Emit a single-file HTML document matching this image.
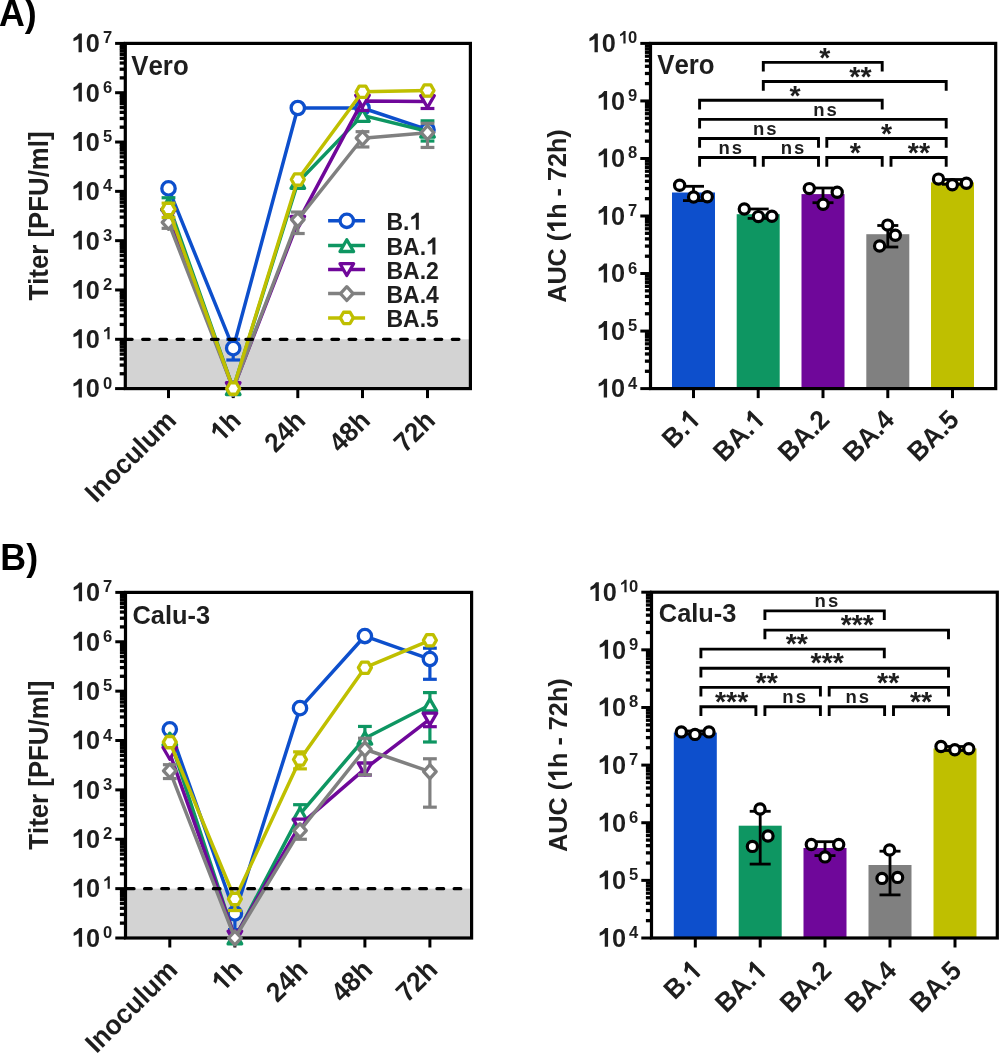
<!DOCTYPE html>
<html><head><meta charset="utf-8"><style>
html,body{margin:0;padding:0;background:#fff;width:1000px;height:1053px;overflow:hidden}
svg{display:block;will-change:transform}
text{font-kerning:none;font-feature-settings:"kern" 0}
</style></head><body>
<svg width="1000" height="1053" viewBox="0 0 1000 1053">
<rect x="0" y="0" width="1000" height="1053" fill="#fff"/>
<rect x="125.3" y="339.29" width="345.1" height="49.31" fill="#d3d3d3"/>
<rect x="125.3" y="43.4" width="345.1" height="345.2" fill="none" stroke="#000" stroke-width="3.2"/>
<line x1="115.1" y1="388.6" x2="125.3" y2="388.6" stroke="#000" stroke-width="3.0"/><line x1="119.7" y1="373.75" x2="125.3" y2="373.75" stroke="#000" stroke-width="3.3"/><line x1="119.7" y1="365.07" x2="125.3" y2="365.07" stroke="#000" stroke-width="3.3"/><line x1="119.7" y1="358.91" x2="125.3" y2="358.91" stroke="#000" stroke-width="3.3"/><line x1="119.7" y1="354.13" x2="125.3" y2="354.13" stroke="#000" stroke-width="3.3"/><line x1="119.7" y1="350.23" x2="125.3" y2="350.23" stroke="#000" stroke-width="3.3"/><line x1="119.7" y1="346.92" x2="125.3" y2="346.92" stroke="#000" stroke-width="3.3"/><line x1="119.7" y1="344.06" x2="125.3" y2="344.06" stroke="#000" stroke-width="3.3"/><line x1="119.7" y1="341.54" x2="125.3" y2="341.54" stroke="#000" stroke-width="3.3"/><line x1="115.1" y1="339.29" x2="125.3" y2="339.29" stroke="#000" stroke-width="3.0"/><line x1="119.7" y1="324.44" x2="125.3" y2="324.44" stroke="#000" stroke-width="3.3"/><line x1="119.7" y1="315.76" x2="125.3" y2="315.76" stroke="#000" stroke-width="3.3"/><line x1="119.7" y1="309.6" x2="125.3" y2="309.6" stroke="#000" stroke-width="3.3"/><line x1="119.7" y1="304.82" x2="125.3" y2="304.82" stroke="#000" stroke-width="3.3"/><line x1="119.7" y1="300.91" x2="125.3" y2="300.91" stroke="#000" stroke-width="3.3"/><line x1="119.7" y1="297.61" x2="125.3" y2="297.61" stroke="#000" stroke-width="3.3"/><line x1="119.7" y1="294.75" x2="125.3" y2="294.75" stroke="#000" stroke-width="3.3"/><line x1="119.7" y1="292.23" x2="125.3" y2="292.23" stroke="#000" stroke-width="3.3"/><line x1="115.1" y1="289.97" x2="125.3" y2="289.97" stroke="#000" stroke-width="3.0"/><line x1="119.7" y1="275.13" x2="125.3" y2="275.13" stroke="#000" stroke-width="3.3"/><line x1="119.7" y1="266.44" x2="125.3" y2="266.44" stroke="#000" stroke-width="3.3"/><line x1="119.7" y1="260.28" x2="125.3" y2="260.28" stroke="#000" stroke-width="3.3"/><line x1="119.7" y1="255.5" x2="125.3" y2="255.5" stroke="#000" stroke-width="3.3"/><line x1="119.7" y1="251.6" x2="125.3" y2="251.6" stroke="#000" stroke-width="3.3"/><line x1="119.7" y1="248.3" x2="125.3" y2="248.3" stroke="#000" stroke-width="3.3"/><line x1="119.7" y1="245.44" x2="125.3" y2="245.44" stroke="#000" stroke-width="3.3"/><line x1="119.7" y1="242.91" x2="125.3" y2="242.91" stroke="#000" stroke-width="3.3"/><line x1="115.1" y1="240.66" x2="125.3" y2="240.66" stroke="#000" stroke-width="3.0"/><line x1="119.7" y1="225.81" x2="125.3" y2="225.81" stroke="#000" stroke-width="3.3"/><line x1="119.7" y1="217.13" x2="125.3" y2="217.13" stroke="#000" stroke-width="3.3"/><line x1="119.7" y1="210.97" x2="125.3" y2="210.97" stroke="#000" stroke-width="3.3"/><line x1="119.7" y1="206.19" x2="125.3" y2="206.19" stroke="#000" stroke-width="3.3"/><line x1="119.7" y1="202.28" x2="125.3" y2="202.28" stroke="#000" stroke-width="3.3"/><line x1="119.7" y1="198.98" x2="125.3" y2="198.98" stroke="#000" stroke-width="3.3"/><line x1="119.7" y1="196.12" x2="125.3" y2="196.12" stroke="#000" stroke-width="3.3"/><line x1="119.7" y1="193.6" x2="125.3" y2="193.6" stroke="#000" stroke-width="3.3"/><line x1="115.1" y1="191.34" x2="125.3" y2="191.34" stroke="#000" stroke-width="3.0"/><line x1="119.7" y1="176.5" x2="125.3" y2="176.5" stroke="#000" stroke-width="3.3"/><line x1="119.7" y1="167.81" x2="125.3" y2="167.81" stroke="#000" stroke-width="3.3"/><line x1="119.7" y1="161.65" x2="125.3" y2="161.65" stroke="#000" stroke-width="3.3"/><line x1="119.7" y1="156.87" x2="125.3" y2="156.87" stroke="#000" stroke-width="3.3"/><line x1="119.7" y1="152.97" x2="125.3" y2="152.97" stroke="#000" stroke-width="3.3"/><line x1="119.7" y1="149.67" x2="125.3" y2="149.67" stroke="#000" stroke-width="3.3"/><line x1="119.7" y1="146.81" x2="125.3" y2="146.81" stroke="#000" stroke-width="3.3"/><line x1="119.7" y1="144.29" x2="125.3" y2="144.29" stroke="#000" stroke-width="3.3"/><line x1="115.1" y1="142.03" x2="125.3" y2="142.03" stroke="#000" stroke-width="3.0"/><line x1="119.7" y1="127.18" x2="125.3" y2="127.18" stroke="#000" stroke-width="3.3"/><line x1="119.7" y1="118.5" x2="125.3" y2="118.5" stroke="#000" stroke-width="3.3"/><line x1="119.7" y1="112.34" x2="125.3" y2="112.34" stroke="#000" stroke-width="3.3"/><line x1="119.7" y1="107.56" x2="125.3" y2="107.56" stroke="#000" stroke-width="3.3"/><line x1="119.7" y1="103.65" x2="125.3" y2="103.65" stroke="#000" stroke-width="3.3"/><line x1="119.7" y1="100.35" x2="125.3" y2="100.35" stroke="#000" stroke-width="3.3"/><line x1="119.7" y1="97.49" x2="125.3" y2="97.49" stroke="#000" stroke-width="3.3"/><line x1="119.7" y1="94.97" x2="125.3" y2="94.97" stroke="#000" stroke-width="3.3"/><line x1="115.1" y1="92.71" x2="125.3" y2="92.71" stroke="#000" stroke-width="3.0"/><line x1="119.7" y1="77.87" x2="125.3" y2="77.87" stroke="#000" stroke-width="3.3"/><line x1="119.7" y1="69.19" x2="125.3" y2="69.19" stroke="#000" stroke-width="3.3"/><line x1="119.7" y1="63.02" x2="125.3" y2="63.02" stroke="#000" stroke-width="3.3"/><line x1="119.7" y1="58.25" x2="125.3" y2="58.25" stroke="#000" stroke-width="3.3"/><line x1="119.7" y1="54.34" x2="125.3" y2="54.34" stroke="#000" stroke-width="3.3"/><line x1="119.7" y1="51.04" x2="125.3" y2="51.04" stroke="#000" stroke-width="3.3"/><line x1="119.7" y1="48.18" x2="125.3" y2="48.18" stroke="#000" stroke-width="3.3"/><line x1="119.7" y1="45.66" x2="125.3" y2="45.66" stroke="#000" stroke-width="3.3"/><line x1="115.1" y1="43.4" x2="125.3" y2="43.4" stroke="#000" stroke-width="3.0"/>
<line x1="168.5" y1="388.6" x2="168.5" y2="398.1" stroke="#000" stroke-width="3.0"/>
<line x1="233.2" y1="388.6" x2="233.2" y2="398.1" stroke="#000" stroke-width="3.0"/>
<line x1="297.8" y1="388.6" x2="297.8" y2="398.1" stroke="#000" stroke-width="3.0"/>
<line x1="362.5" y1="388.6" x2="362.5" y2="398.1" stroke="#000" stroke-width="3.0"/>
<line x1="427.5" y1="388.6" x2="427.5" y2="398.1" stroke="#000" stroke-width="3.0"/>
<polyline points="168.5,188.38 233.2,348.16 297.8,108 362.5,108 427.5,129.7" fill="none" stroke="#0d4fcc" stroke-width="3.5" stroke-linejoin="round"/>
<line x1="233.2" y1="348.16" x2="233.2" y2="339.29" stroke="#0d4fcc" stroke-width="3.2"/><line x1="226.3" y1="339.29" x2="240.1" y2="339.29" stroke="#0d4fcc" stroke-width="3.2"/><line x1="233.2" y1="348.16" x2="233.2" y2="360" stroke="#0d4fcc" stroke-width="3.2"/><line x1="226.3" y1="360" x2="240.1" y2="360" stroke="#0d4fcc" stroke-width="3.2"/>
<circle cx="168.5" cy="188.38" r="6.7" fill="#fff" stroke="#0d4fcc" stroke-width="3.3"/><circle cx="233.2" cy="348.16" r="6.7" fill="#fff" stroke="#0d4fcc" stroke-width="3.3"/><circle cx="297.8" cy="108" r="6.7" fill="#fff" stroke="#0d4fcc" stroke-width="3.3"/><circle cx="362.5" cy="108" r="6.7" fill="#fff" stroke="#0d4fcc" stroke-width="3.3"/><circle cx="427.5" cy="129.7" r="6.7" fill="#fff" stroke="#0d4fcc" stroke-width="3.3"/>
<polyline points="168.5,204.16 233.2,388.6 297.8,182.47 362.5,115.4 427.5,131.18" fill="none" stroke="#0e9662" stroke-width="3.5" stroke-linejoin="round"/>
<line x1="168.5" y1="204.16" x2="168.5" y2="197.75" stroke="#0e9662" stroke-width="3.2"/><line x1="161.6" y1="197.75" x2="175.4" y2="197.75" stroke="#0e9662" stroke-width="3.2"/>
<line x1="427.5" y1="131.18" x2="427.5" y2="120.82" stroke="#0e9662" stroke-width="3.2"/><line x1="420.6" y1="120.82" x2="434.4" y2="120.82" stroke="#0e9662" stroke-width="3.2"/><line x1="427.5" y1="131.18" x2="427.5" y2="141.04" stroke="#0e9662" stroke-width="3.2"/><line x1="420.6" y1="141.04" x2="434.4" y2="141.04" stroke="#0e9662" stroke-width="3.2"/>
<polygon points="168.5,198.26 175.3,210.06 161.7,210.06" fill="#fff" stroke="#0e9662" stroke-width="3.3" stroke-linejoin="round"/><polygon points="233.2,382.7 240,394.5 226.4,394.5" fill="#fff" stroke="#0e9662" stroke-width="3.3" stroke-linejoin="round"/><polygon points="297.8,176.57 304.6,188.37 291,188.37" fill="#fff" stroke="#0e9662" stroke-width="3.3" stroke-linejoin="round"/><polygon points="362.5,109.5 369.3,121.3 355.7,121.3" fill="#fff" stroke="#0e9662" stroke-width="3.3" stroke-linejoin="round"/><polygon points="427.5,125.28 434.3,137.08 420.7,137.08" fill="#fff" stroke="#0e9662" stroke-width="3.3" stroke-linejoin="round"/>
<polyline points="168.5,215.01 233.2,388.6 297.8,222.41 362.5,101.1 427.5,101.59" fill="none" stroke="#6f079a" stroke-width="3.5" stroke-linejoin="round"/>
<line x1="362.5" y1="101.1" x2="362.5" y2="110.47" stroke="#6f079a" stroke-width="3.2"/><line x1="355.6" y1="110.47" x2="369.4" y2="110.47" stroke="#6f079a" stroke-width="3.2"/>
<line x1="427.5" y1="101.59" x2="427.5" y2="108.49" stroke="#6f079a" stroke-width="3.2"/><line x1="420.6" y1="108.49" x2="434.4" y2="108.49" stroke="#6f079a" stroke-width="3.2"/>
<polygon points="168.5,220.91 175.3,209.11 161.7,209.11" fill="#fff" stroke="#6f079a" stroke-width="3.3" stroke-linejoin="round"/><polygon points="233.2,394.5 240,382.7 226.4,382.7" fill="#fff" stroke="#6f079a" stroke-width="3.3" stroke-linejoin="round"/><polygon points="297.8,228.31 304.6,216.51 291,216.51" fill="#fff" stroke="#6f079a" stroke-width="3.3" stroke-linejoin="round"/><polygon points="362.5,107 369.3,95.2 355.7,95.2" fill="#fff" stroke="#6f079a" stroke-width="3.3" stroke-linejoin="round"/><polygon points="427.5,107.49 434.3,95.69 420.7,95.69" fill="#fff" stroke="#6f079a" stroke-width="3.3" stroke-linejoin="round"/>
<polyline points="168.5,222.41 233.2,388.6 297.8,219.7 362.5,138.23 427.5,132.66" fill="none" stroke="#808080" stroke-width="3.5" stroke-linejoin="round"/>
<line x1="168.5" y1="222.41" x2="168.5" y2="228.33" stroke="#808080" stroke-width="3.2"/><line x1="161.6" y1="228.33" x2="175.4" y2="228.33" stroke="#808080" stroke-width="3.2"/>
<line x1="297.8" y1="219.7" x2="297.8" y2="212.05" stroke="#808080" stroke-width="3.2"/><line x1="290.9" y1="212.05" x2="304.7" y2="212.05" stroke="#808080" stroke-width="3.2"/><line x1="297.8" y1="219.7" x2="297.8" y2="233.51" stroke="#808080" stroke-width="3.2"/><line x1="290.9" y1="233.51" x2="304.7" y2="233.51" stroke="#808080" stroke-width="3.2"/>
<line x1="362.5" y1="138.23" x2="362.5" y2="131.67" stroke="#808080" stroke-width="3.2"/><line x1="355.6" y1="131.67" x2="369.4" y2="131.67" stroke="#808080" stroke-width="3.2"/><line x1="362.5" y1="138.23" x2="362.5" y2="146.96" stroke="#808080" stroke-width="3.2"/><line x1="355.6" y1="146.96" x2="369.4" y2="146.96" stroke="#808080" stroke-width="3.2"/>
<line x1="427.5" y1="132.66" x2="427.5" y2="123.29" stroke="#808080" stroke-width="3.2"/><line x1="420.6" y1="123.29" x2="434.4" y2="123.29" stroke="#808080" stroke-width="3.2"/><line x1="427.5" y1="132.66" x2="427.5" y2="147.45" stroke="#808080" stroke-width="3.2"/><line x1="420.6" y1="147.45" x2="434.4" y2="147.45" stroke="#808080" stroke-width="3.2"/>
<polygon points="168.5,215.51 174.8,222.41 168.5,229.31 162.2,222.41" fill="#fff" stroke="#808080" stroke-width="3.3" stroke-linejoin="round"/><polygon points="233.2,381.7 239.5,388.6 233.2,395.5 226.9,388.6" fill="#fff" stroke="#808080" stroke-width="3.3" stroke-linejoin="round"/><polygon points="297.8,212.8 304.1,219.7 297.8,226.6 291.5,219.7" fill="#fff" stroke="#808080" stroke-width="3.3" stroke-linejoin="round"/><polygon points="362.5,131.33 368.8,138.23 362.5,145.13 356.2,138.23" fill="#fff" stroke="#808080" stroke-width="3.3" stroke-linejoin="round"/><polygon points="427.5,125.76 433.8,132.66 427.5,139.56 421.2,132.66" fill="#fff" stroke="#808080" stroke-width="3.3" stroke-linejoin="round"/>
<polyline points="168.5,209.1 233.2,388.6 297.8,179.51 362.5,91.73 427.5,90.5" fill="none" stroke="#bfbf00" stroke-width="3.5" stroke-linejoin="round"/>
<line x1="168.5" y1="209.1" x2="168.5" y2="203.18" stroke="#bfbf00" stroke-width="3.2"/><line x1="161.6" y1="203.18" x2="175.4" y2="203.18" stroke="#bfbf00" stroke-width="3.2"/><line x1="168.5" y1="209.1" x2="168.5" y2="217.48" stroke="#bfbf00" stroke-width="3.2"/><line x1="161.6" y1="217.48" x2="175.4" y2="217.48" stroke="#bfbf00" stroke-width="3.2"/>
<polygon points="162,209.1 165.25,203.47 171.75,203.47 175,209.1 171.75,214.72 165.25,214.72" fill="#fff" stroke="#bfbf00" stroke-width="3.3" stroke-linejoin="round"/><polygon points="226.7,388.6 229.95,382.97 236.45,382.97 239.7,388.6 236.45,394.23 229.95,394.23" fill="#fff" stroke="#bfbf00" stroke-width="3.3" stroke-linejoin="round"/><polygon points="291.3,179.51 294.55,173.88 301.05,173.88 304.3,179.51 301.05,185.14 294.55,185.14" fill="#fff" stroke="#bfbf00" stroke-width="3.3" stroke-linejoin="round"/><polygon points="356,91.73 359.25,86.1 365.75,86.1 369,91.73 365.75,97.36 359.25,97.36" fill="#fff" stroke="#bfbf00" stroke-width="3.3" stroke-linejoin="round"/><polygon points="421,90.5 424.25,84.87 430.75,84.87 434,90.5 430.75,96.12 424.25,96.12" fill="#fff" stroke="#bfbf00" stroke-width="3.3" stroke-linejoin="round"/>
<line x1="125.5" y1="339.29" x2="469.4" y2="339.29" stroke="#000" stroke-width="3.3" stroke-dasharray="6.6 10.6" stroke-linecap="round"/>
<g transform="translate(99.76,397.46) scale(1,1.04)" fill="#1e1e1e"><path transform="translate(-28.14,0) scale(0.01235,-0.01235)" d="M830,0 L560,0 L560,1050 Q450,955 150,850 L150,1095 Q420,1200 600,1466 L830,1466 Z"/><text x="-14.07" y="0" font-size="25.3" font-family="Liberation Sans, sans-serif" font-weight="bold">0</text></g>
<g transform="translate(112.1,388.6) scale(1,1.04)" fill="#1e1e1e"><text x="-9.23" y="0" font-size="16.6" font-family="Liberation Sans, sans-serif" font-weight="bold">0</text></g>
<g transform="translate(99.76,348.14) scale(1,1.04)" fill="#1e1e1e"><path transform="translate(-28.14,0) scale(0.01235,-0.01235)" d="M830,0 L560,0 L560,1050 Q450,955 150,850 L150,1095 Q420,1200 600,1466 L830,1466 Z"/><text x="-14.07" y="0" font-size="25.3" font-family="Liberation Sans, sans-serif" font-weight="bold">0</text></g>
<g transform="translate(112.1,339.29) scale(1,1.04)" fill="#1e1e1e"><path transform="translate(-9.23,0) scale(0.00811,-0.00811)" d="M830,0 L560,0 L560,1050 Q450,955 150,850 L150,1095 Q420,1200 600,1466 L830,1466 Z"/></g>
<g transform="translate(99.76,298.83) scale(1,1.04)" fill="#1e1e1e"><path transform="translate(-28.14,0) scale(0.01235,-0.01235)" d="M830,0 L560,0 L560,1050 Q450,955 150,850 L150,1095 Q420,1200 600,1466 L830,1466 Z"/><text x="-14.07" y="0" font-size="25.3" font-family="Liberation Sans, sans-serif" font-weight="bold">0</text></g>
<g transform="translate(112.1,289.97) scale(1,1.04)" fill="#1e1e1e"><text x="-9.23" y="0" font-size="16.6" font-family="Liberation Sans, sans-serif" font-weight="bold">2</text></g>
<g transform="translate(99.76,249.51) scale(1,1.04)" fill="#1e1e1e"><path transform="translate(-28.14,0) scale(0.01235,-0.01235)" d="M830,0 L560,0 L560,1050 Q450,955 150,850 L150,1095 Q420,1200 600,1466 L830,1466 Z"/><text x="-14.07" y="0" font-size="25.3" font-family="Liberation Sans, sans-serif" font-weight="bold">0</text></g>
<g transform="translate(112.1,240.66) scale(1,1.04)" fill="#1e1e1e"><text x="-9.23" y="0" font-size="16.6" font-family="Liberation Sans, sans-serif" font-weight="bold">3</text></g>
<g transform="translate(99.76,200.2) scale(1,1.04)" fill="#1e1e1e"><path transform="translate(-28.14,0) scale(0.01235,-0.01235)" d="M830,0 L560,0 L560,1050 Q450,955 150,850 L150,1095 Q420,1200 600,1466 L830,1466 Z"/><text x="-14.07" y="0" font-size="25.3" font-family="Liberation Sans, sans-serif" font-weight="bold">0</text></g>
<g transform="translate(112.1,191.34) scale(1,1.04)" fill="#1e1e1e"><text x="-9.23" y="0" font-size="16.6" font-family="Liberation Sans, sans-serif" font-weight="bold">4</text></g>
<g transform="translate(99.76,150.88) scale(1,1.04)" fill="#1e1e1e"><path transform="translate(-28.14,0) scale(0.01235,-0.01235)" d="M830,0 L560,0 L560,1050 Q450,955 150,850 L150,1095 Q420,1200 600,1466 L830,1466 Z"/><text x="-14.07" y="0" font-size="25.3" font-family="Liberation Sans, sans-serif" font-weight="bold">0</text></g>
<g transform="translate(112.1,142.03) scale(1,1.04)" fill="#1e1e1e"><text x="-9.23" y="0" font-size="16.6" font-family="Liberation Sans, sans-serif" font-weight="bold">5</text></g>
<g transform="translate(99.76,101.57) scale(1,1.04)" fill="#1e1e1e"><path transform="translate(-28.14,0) scale(0.01235,-0.01235)" d="M830,0 L560,0 L560,1050 Q450,955 150,850 L150,1095 Q420,1200 600,1466 L830,1466 Z"/><text x="-14.07" y="0" font-size="25.3" font-family="Liberation Sans, sans-serif" font-weight="bold">0</text></g>
<g transform="translate(112.1,92.71) scale(1,1.04)" fill="#1e1e1e"><text x="-9.23" y="0" font-size="16.6" font-family="Liberation Sans, sans-serif" font-weight="bold">6</text></g>
<g transform="translate(99.76,52.25) scale(1,1.04)" fill="#1e1e1e"><path transform="translate(-28.14,0) scale(0.01235,-0.01235)" d="M830,0 L560,0 L560,1050 Q450,955 150,850 L150,1095 Q420,1200 600,1466 L830,1466 Z"/><text x="-14.07" y="0" font-size="25.3" font-family="Liberation Sans, sans-serif" font-weight="bold">0</text></g>
<g transform="translate(112.1,43.4) scale(1,1.04)" fill="#1e1e1e"><text x="-9.23" y="0" font-size="16.6" font-family="Liberation Sans, sans-serif" font-weight="bold">7</text></g>
<g transform="translate(177.8,422) rotate(-45) scale(1,1.04)" fill="#1e1e1e"><text x="-115.55" y="0" font-size="26" font-family="Liberation Sans, sans-serif" font-weight="bold">Inoculum</text></g>
<g transform="translate(242.5,422) rotate(-45) scale(1,1.04)" fill="#1e1e1e"><path transform="translate(-30.34,0) scale(0.01270,-0.01270)" d="M830,0 L560,0 L560,1050 Q450,955 150,850 L150,1095 Q420,1200 600,1466 L830,1466 Z"/><text x="-15.88" y="0" font-size="26" font-family="Liberation Sans, sans-serif" font-weight="bold">h</text></g>
<g transform="translate(307.1,422) rotate(-45) scale(1,1.04)" fill="#1e1e1e"><text x="-44.8" y="0" font-size="26" font-family="Liberation Sans, sans-serif" font-weight="bold">24h</text></g>
<g transform="translate(371.8,422) rotate(-45) scale(1,1.04)" fill="#1e1e1e"><text x="-44.8" y="0" font-size="26" font-family="Liberation Sans, sans-serif" font-weight="bold">48h</text></g>
<g transform="translate(436.8,422) rotate(-45) scale(1,1.04)" fill="#1e1e1e"><text x="-44.8" y="0" font-size="26" font-family="Liberation Sans, sans-serif" font-weight="bold">72h</text></g>
<g transform="translate(131.3,75.2) scale(1,1.04)" fill="#1e1e1e"><text x="0" y="0" font-size="25.8" font-family="Liberation Sans, sans-serif" font-weight="bold">Vero</text></g>
<g transform="translate(47.6,216) rotate(-90) scale(1,1.04)" fill="#1e1e1e"><text x="-84.57" y="0" font-size="25.8" font-family="Liberation Sans, sans-serif" font-weight="bold">Titer [PFU/ml]</text></g>
<line x1="328.1" y1="220.8" x2="365.1" y2="220.8" stroke="#0d4fcc" stroke-width="3.5"/>
<circle cx="346.8" cy="220.8" r="6.7" fill="#fff" stroke="#0d4fcc" stroke-width="3.3"/>
<g transform="translate(386.5,229.75) scale(1,1.04)" fill="#1e1e1e"><text x="0" y="0" font-size="23" font-family="Liberation Sans, sans-serif" font-weight="bold">B.</text><path transform="translate(23,0) scale(0.01123,-0.01123)" d="M830,0 L560,0 L560,1050 Q450,955 150,850 L150,1095 Q420,1200 600,1466 L830,1466 Z"/></g>
<line x1="328.1" y1="245.6" x2="365.1" y2="245.6" stroke="#0e9662" stroke-width="3.5"/>
<polygon points="346.8,239.7 353.6,251.5 340,251.5" fill="#fff" stroke="#0e9662" stroke-width="3.3" stroke-linejoin="round"/>
<g transform="translate(386.5,254.55) scale(1,1.04)" fill="#1e1e1e"><text x="0" y="0" font-size="23" font-family="Liberation Sans, sans-serif" font-weight="bold">BA.</text><path transform="translate(39.61,0) scale(0.01123,-0.01123)" d="M830,0 L560,0 L560,1050 Q450,955 150,850 L150,1095 Q420,1200 600,1466 L830,1466 Z"/></g>
<line x1="328.1" y1="269.6" x2="365.1" y2="269.6" stroke="#6f079a" stroke-width="3.5"/>
<polygon points="346.8,275.5 353.6,263.7 340,263.7" fill="#fff" stroke="#6f079a" stroke-width="3.3" stroke-linejoin="round"/>
<g transform="translate(386.5,278.55) scale(1,1.04)" fill="#1e1e1e"><text x="0" y="0" font-size="23" font-family="Liberation Sans, sans-serif" font-weight="bold">BA.2</text></g>
<line x1="328.1" y1="293.6" x2="365.1" y2="293.6" stroke="#808080" stroke-width="3.5"/>
<polygon points="346.8,286.7 353.1,293.6 346.8,300.5 340.5,293.6" fill="#fff" stroke="#808080" stroke-width="3.3" stroke-linejoin="round"/>
<g transform="translate(386.5,302.55) scale(1,1.04)" fill="#1e1e1e"><text x="0" y="0" font-size="23" font-family="Liberation Sans, sans-serif" font-weight="bold">BA.4</text></g>
<line x1="328.1" y1="317.9" x2="365.1" y2="317.9" stroke="#bfbf00" stroke-width="3.5"/>
<polygon points="340.3,317.9 343.55,312.27 350.05,312.27 353.3,317.9 350.05,323.53 343.55,323.53" fill="#fff" stroke="#bfbf00" stroke-width="3.3" stroke-linejoin="round"/>
<g transform="translate(386.5,326.85) scale(1,1.04)" fill="#1e1e1e"><text x="0" y="0" font-size="23" font-family="Liberation Sans, sans-serif" font-weight="bold">BA.5</text></g>
<rect x="125.5" y="888.63" width="346.1" height="49.37" fill="#d3d3d3"/>
<rect x="125.5" y="592.4" width="346.1" height="345.6" fill="none" stroke="#000" stroke-width="3.2"/>
<line x1="115.3" y1="938" x2="125.5" y2="938" stroke="#000" stroke-width="3.0"/><line x1="119.9" y1="923.14" x2="125.5" y2="923.14" stroke="#000" stroke-width="3.3"/><line x1="119.9" y1="914.44" x2="125.5" y2="914.44" stroke="#000" stroke-width="3.3"/><line x1="119.9" y1="908.28" x2="125.5" y2="908.28" stroke="#000" stroke-width="3.3"/><line x1="119.9" y1="903.49" x2="125.5" y2="903.49" stroke="#000" stroke-width="3.3"/><line x1="119.9" y1="899.58" x2="125.5" y2="899.58" stroke="#000" stroke-width="3.3"/><line x1="119.9" y1="896.28" x2="125.5" y2="896.28" stroke="#000" stroke-width="3.3"/><line x1="119.9" y1="893.41" x2="125.5" y2="893.41" stroke="#000" stroke-width="3.3"/><line x1="119.9" y1="890.89" x2="125.5" y2="890.89" stroke="#000" stroke-width="3.3"/><line x1="115.3" y1="888.63" x2="125.5" y2="888.63" stroke="#000" stroke-width="3.0"/><line x1="119.9" y1="873.77" x2="125.5" y2="873.77" stroke="#000" stroke-width="3.3"/><line x1="119.9" y1="865.07" x2="125.5" y2="865.07" stroke="#000" stroke-width="3.3"/><line x1="119.9" y1="858.9" x2="125.5" y2="858.9" stroke="#000" stroke-width="3.3"/><line x1="119.9" y1="854.12" x2="125.5" y2="854.12" stroke="#000" stroke-width="3.3"/><line x1="119.9" y1="850.21" x2="125.5" y2="850.21" stroke="#000" stroke-width="3.3"/><line x1="119.9" y1="846.9" x2="125.5" y2="846.9" stroke="#000" stroke-width="3.3"/><line x1="119.9" y1="844.04" x2="125.5" y2="844.04" stroke="#000" stroke-width="3.3"/><line x1="119.9" y1="841.52" x2="125.5" y2="841.52" stroke="#000" stroke-width="3.3"/><line x1="115.3" y1="839.26" x2="125.5" y2="839.26" stroke="#000" stroke-width="3.0"/><line x1="119.9" y1="824.39" x2="125.5" y2="824.39" stroke="#000" stroke-width="3.3"/><line x1="119.9" y1="815.7" x2="125.5" y2="815.7" stroke="#000" stroke-width="3.3"/><line x1="119.9" y1="809.53" x2="125.5" y2="809.53" stroke="#000" stroke-width="3.3"/><line x1="119.9" y1="804.75" x2="125.5" y2="804.75" stroke="#000" stroke-width="3.3"/><line x1="119.9" y1="800.84" x2="125.5" y2="800.84" stroke="#000" stroke-width="3.3"/><line x1="119.9" y1="797.53" x2="125.5" y2="797.53" stroke="#000" stroke-width="3.3"/><line x1="119.9" y1="794.67" x2="125.5" y2="794.67" stroke="#000" stroke-width="3.3"/><line x1="119.9" y1="792.14" x2="125.5" y2="792.14" stroke="#000" stroke-width="3.3"/><line x1="115.3" y1="789.89" x2="125.5" y2="789.89" stroke="#000" stroke-width="3.0"/><line x1="119.9" y1="775.02" x2="125.5" y2="775.02" stroke="#000" stroke-width="3.3"/><line x1="119.9" y1="766.33" x2="125.5" y2="766.33" stroke="#000" stroke-width="3.3"/><line x1="119.9" y1="760.16" x2="125.5" y2="760.16" stroke="#000" stroke-width="3.3"/><line x1="119.9" y1="755.38" x2="125.5" y2="755.38" stroke="#000" stroke-width="3.3"/><line x1="119.9" y1="751.47" x2="125.5" y2="751.47" stroke="#000" stroke-width="3.3"/><line x1="119.9" y1="748.16" x2="125.5" y2="748.16" stroke="#000" stroke-width="3.3"/><line x1="119.9" y1="745.3" x2="125.5" y2="745.3" stroke="#000" stroke-width="3.3"/><line x1="119.9" y1="742.77" x2="125.5" y2="742.77" stroke="#000" stroke-width="3.3"/><line x1="115.3" y1="740.51" x2="125.5" y2="740.51" stroke="#000" stroke-width="3.0"/><line x1="119.9" y1="725.65" x2="125.5" y2="725.65" stroke="#000" stroke-width="3.3"/><line x1="119.9" y1="716.96" x2="125.5" y2="716.96" stroke="#000" stroke-width="3.3"/><line x1="119.9" y1="710.79" x2="125.5" y2="710.79" stroke="#000" stroke-width="3.3"/><line x1="119.9" y1="706.01" x2="125.5" y2="706.01" stroke="#000" stroke-width="3.3"/><line x1="119.9" y1="702.1" x2="125.5" y2="702.1" stroke="#000" stroke-width="3.3"/><line x1="119.9" y1="698.79" x2="125.5" y2="698.79" stroke="#000" stroke-width="3.3"/><line x1="119.9" y1="695.93" x2="125.5" y2="695.93" stroke="#000" stroke-width="3.3"/><line x1="119.9" y1="693.4" x2="125.5" y2="693.4" stroke="#000" stroke-width="3.3"/><line x1="115.3" y1="691.14" x2="125.5" y2="691.14" stroke="#000" stroke-width="3.0"/><line x1="119.9" y1="676.28" x2="125.5" y2="676.28" stroke="#000" stroke-width="3.3"/><line x1="119.9" y1="667.59" x2="125.5" y2="667.59" stroke="#000" stroke-width="3.3"/><line x1="119.9" y1="661.42" x2="125.5" y2="661.42" stroke="#000" stroke-width="3.3"/><line x1="119.9" y1="656.63" x2="125.5" y2="656.63" stroke="#000" stroke-width="3.3"/><line x1="119.9" y1="652.72" x2="125.5" y2="652.72" stroke="#000" stroke-width="3.3"/><line x1="119.9" y1="649.42" x2="125.5" y2="649.42" stroke="#000" stroke-width="3.3"/><line x1="119.9" y1="646.56" x2="125.5" y2="646.56" stroke="#000" stroke-width="3.3"/><line x1="119.9" y1="644.03" x2="125.5" y2="644.03" stroke="#000" stroke-width="3.3"/><line x1="115.3" y1="641.77" x2="125.5" y2="641.77" stroke="#000" stroke-width="3.0"/><line x1="119.9" y1="626.91" x2="125.5" y2="626.91" stroke="#000" stroke-width="3.3"/><line x1="119.9" y1="618.22" x2="125.5" y2="618.22" stroke="#000" stroke-width="3.3"/><line x1="119.9" y1="612.05" x2="125.5" y2="612.05" stroke="#000" stroke-width="3.3"/><line x1="119.9" y1="607.26" x2="125.5" y2="607.26" stroke="#000" stroke-width="3.3"/><line x1="119.9" y1="603.35" x2="125.5" y2="603.35" stroke="#000" stroke-width="3.3"/><line x1="119.9" y1="600.05" x2="125.5" y2="600.05" stroke="#000" stroke-width="3.3"/><line x1="119.9" y1="597.18" x2="125.5" y2="597.18" stroke="#000" stroke-width="3.3"/><line x1="119.9" y1="594.66" x2="125.5" y2="594.66" stroke="#000" stroke-width="3.3"/><line x1="115.3" y1="592.4" x2="125.5" y2="592.4" stroke="#000" stroke-width="3.0"/>
<line x1="169.8" y1="938" x2="169.8" y2="947.5" stroke="#000" stroke-width="3.0"/>
<line x1="234.9" y1="938" x2="234.9" y2="947.5" stroke="#000" stroke-width="3.0"/>
<line x1="300" y1="938" x2="300" y2="947.5" stroke="#000" stroke-width="3.0"/>
<line x1="364.9" y1="938" x2="364.9" y2="947.5" stroke="#000" stroke-width="3.0"/>
<line x1="429.9" y1="938" x2="429.9" y2="947.5" stroke="#000" stroke-width="3.0"/>
<polyline points="169.8,729.36 234.9,913.46 300,708.13 364.9,636.04 429.9,659.05" fill="none" stroke="#0d4fcc" stroke-width="3.5" stroke-linejoin="round"/>
<line x1="234.9" y1="913.46" x2="234.9" y2="929.61" stroke="#0d4fcc" stroke-width="3.2"/><line x1="228" y1="929.61" x2="241.8" y2="929.61" stroke="#0d4fcc" stroke-width="3.2"/>
<line x1="429.9" y1="659.05" x2="429.9" y2="648.19" stroke="#0d4fcc" stroke-width="3.2"/><line x1="423" y1="648.19" x2="436.8" y2="648.19" stroke="#0d4fcc" stroke-width="3.2"/><line x1="429.9" y1="659.05" x2="429.9" y2="679.29" stroke="#0d4fcc" stroke-width="3.2"/><line x1="423" y1="679.29" x2="436.8" y2="679.29" stroke="#0d4fcc" stroke-width="3.2"/>
<circle cx="169.8" cy="729.36" r="6.7" fill="#fff" stroke="#0d4fcc" stroke-width="3.3"/><circle cx="234.9" cy="913.46" r="6.7" fill="#fff" stroke="#0d4fcc" stroke-width="3.3"/><circle cx="300" cy="708.13" r="6.7" fill="#fff" stroke="#0d4fcc" stroke-width="3.3"/><circle cx="364.9" cy="636.04" r="6.7" fill="#fff" stroke="#0d4fcc" stroke-width="3.3"/><circle cx="429.9" cy="659.05" r="6.7" fill="#fff" stroke="#0d4fcc" stroke-width="3.3"/>
<polyline points="169.8,739.03 234.9,938 300,814.08 364.9,738.24 429.9,704.97" fill="none" stroke="#0e9662" stroke-width="3.5" stroke-linejoin="round"/>
<line x1="300" y1="814.08" x2="300" y2="804.7" stroke="#0e9662" stroke-width="3.2"/><line x1="293.1" y1="804.7" x2="306.9" y2="804.7" stroke="#0e9662" stroke-width="3.2"/>
<line x1="364.9" y1="738.24" x2="364.9" y2="726.44" stroke="#0e9662" stroke-width="3.2"/><line x1="358" y1="726.44" x2="371.8" y2="726.44" stroke="#0e9662" stroke-width="3.2"/>
<line x1="429.9" y1="704.97" x2="429.9" y2="692.62" stroke="#0e9662" stroke-width="3.2"/><line x1="423" y1="692.62" x2="436.8" y2="692.62" stroke="#0e9662" stroke-width="3.2"/><line x1="429.9" y1="704.97" x2="429.9" y2="742" stroke="#0e9662" stroke-width="3.2"/><line x1="423" y1="742" x2="436.8" y2="742" stroke="#0e9662" stroke-width="3.2"/>
<polygon points="169.8,733.13 176.6,744.93 163,744.93" fill="#fff" stroke="#0e9662" stroke-width="3.3" stroke-linejoin="round"/><polygon points="234.9,932.1 241.7,943.9 228.1,943.9" fill="#fff" stroke="#0e9662" stroke-width="3.3" stroke-linejoin="round"/><polygon points="300,808.18 306.8,819.98 293.2,819.98" fill="#fff" stroke="#0e9662" stroke-width="3.3" stroke-linejoin="round"/><polygon points="364.9,732.34 371.7,744.14 358.1,744.14" fill="#fff" stroke="#0e9662" stroke-width="3.3" stroke-linejoin="round"/><polygon points="429.9,699.07 436.7,710.87 423.1,710.87" fill="#fff" stroke="#0e9662" stroke-width="3.3" stroke-linejoin="round"/>
<polyline points="169.8,753.35 234.9,937.01 300,824.94 364.9,768.9 429.9,719.04" fill="none" stroke="#6f079a" stroke-width="3.5" stroke-linejoin="round"/>
<line x1="364.9" y1="768.9" x2="364.9" y2="775.07" stroke="#6f079a" stroke-width="3.2"/><line x1="358" y1="775.07" x2="371.8" y2="775.07" stroke="#6f079a" stroke-width="3.2"/>
<line x1="429.9" y1="719.04" x2="429.9" y2="726.69" stroke="#6f079a" stroke-width="3.2"/><line x1="423" y1="726.69" x2="436.8" y2="726.69" stroke="#6f079a" stroke-width="3.2"/>
<polygon points="169.8,759.25 176.6,747.45 163,747.45" fill="#fff" stroke="#6f079a" stroke-width="3.3" stroke-linejoin="round"/><polygon points="234.9,942.91 241.7,931.11 228.1,931.11" fill="#fff" stroke="#6f079a" stroke-width="3.3" stroke-linejoin="round"/><polygon points="300,830.84 306.8,819.04 293.2,819.04" fill="#fff" stroke="#6f079a" stroke-width="3.3" stroke-linejoin="round"/><polygon points="364.9,774.8 371.7,763 358.1,763" fill="#fff" stroke="#6f079a" stroke-width="3.3" stroke-linejoin="round"/><polygon points="429.9,724.94 436.7,713.14 423.1,713.14" fill="#fff" stroke="#6f079a" stroke-width="3.3" stroke-linejoin="round"/>
<polyline points="169.8,770.78 234.9,938 300,830.57 364.9,749.25 429.9,771.62" fill="none" stroke="#808080" stroke-width="3.5" stroke-linejoin="round"/>
<line x1="169.8" y1="770.78" x2="169.8" y2="764.71" stroke="#808080" stroke-width="3.2"/><line x1="162.9" y1="764.71" x2="176.7" y2="764.71" stroke="#808080" stroke-width="3.2"/><line x1="169.8" y1="770.78" x2="169.8" y2="778.53" stroke="#808080" stroke-width="3.2"/><line x1="162.9" y1="778.53" x2="176.7" y2="778.53" stroke="#808080" stroke-width="3.2"/>
<line x1="300" y1="830.57" x2="300" y2="839.26" stroke="#808080" stroke-width="3.2"/><line x1="293.1" y1="839.26" x2="306.9" y2="839.26" stroke="#808080" stroke-width="3.2"/>
<line x1="364.9" y1="749.25" x2="364.9" y2="738.24" stroke="#808080" stroke-width="3.2"/><line x1="358" y1="738.24" x2="371.8" y2="738.24" stroke="#808080" stroke-width="3.2"/><line x1="364.9" y1="749.25" x2="364.9" y2="774.78" stroke="#808080" stroke-width="3.2"/><line x1="358" y1="774.78" x2="371.8" y2="774.78" stroke="#808080" stroke-width="3.2"/>
<line x1="429.9" y1="771.62" x2="429.9" y2="758.78" stroke="#808080" stroke-width="3.2"/><line x1="423" y1="758.78" x2="436.8" y2="758.78" stroke="#808080" stroke-width="3.2"/><line x1="429.9" y1="771.62" x2="429.9" y2="807.17" stroke="#808080" stroke-width="3.2"/><line x1="423" y1="807.17" x2="436.8" y2="807.17" stroke="#808080" stroke-width="3.2"/>
<polygon points="169.8,763.88 176.1,770.78 169.8,777.68 163.5,770.78" fill="#fff" stroke="#808080" stroke-width="3.3" stroke-linejoin="round"/><polygon points="234.9,931.1 241.2,938 234.9,944.9 228.6,938" fill="#fff" stroke="#808080" stroke-width="3.3" stroke-linejoin="round"/><polygon points="300,823.67 306.3,830.57 300,837.47 293.7,830.57" fill="#fff" stroke="#808080" stroke-width="3.3" stroke-linejoin="round"/><polygon points="364.9,742.35 371.2,749.25 364.9,756.15 358.6,749.25" fill="#fff" stroke="#808080" stroke-width="3.3" stroke-linejoin="round"/><polygon points="429.9,764.72 436.2,771.62 429.9,778.52 423.6,771.62" fill="#fff" stroke="#808080" stroke-width="3.3" stroke-linejoin="round"/>
<polyline points="169.8,742.14 234.9,899 300,759.47 364.9,667.69 429.9,640.29" fill="none" stroke="#bfbf00" stroke-width="3.5" stroke-linejoin="round"/>
<line x1="234.9" y1="899" x2="234.9" y2="910.55" stroke="#bfbf00" stroke-width="3.2"/><line x1="228" y1="910.55" x2="241.8" y2="910.55" stroke="#bfbf00" stroke-width="3.2"/>
<line x1="300" y1="759.47" x2="300" y2="751.87" stroke="#bfbf00" stroke-width="3.2"/><line x1="293.1" y1="751.87" x2="306.9" y2="751.87" stroke="#bfbf00" stroke-width="3.2"/><line x1="300" y1="759.47" x2="300" y2="768.85" stroke="#bfbf00" stroke-width="3.2"/><line x1="293.1" y1="768.85" x2="306.9" y2="768.85" stroke="#bfbf00" stroke-width="3.2"/>
<polygon points="163.3,742.14 166.55,736.51 173.05,736.51 176.3,742.14 173.05,747.77 166.55,747.77" fill="#fff" stroke="#bfbf00" stroke-width="3.3" stroke-linejoin="round"/><polygon points="228.4,899 231.65,893.37 238.15,893.37 241.4,899 238.15,904.63 231.65,904.63" fill="#fff" stroke="#bfbf00" stroke-width="3.3" stroke-linejoin="round"/><polygon points="293.5,759.47 296.75,753.84 303.25,753.84 306.5,759.47 303.25,765.1 296.75,765.1" fill="#fff" stroke="#bfbf00" stroke-width="3.3" stroke-linejoin="round"/><polygon points="358.4,667.69 361.65,662.06 368.15,662.06 371.4,667.69 368.15,673.32 361.65,673.32" fill="#fff" stroke="#bfbf00" stroke-width="3.3" stroke-linejoin="round"/><polygon points="423.4,640.29 426.65,634.66 433.15,634.66 436.4,640.29 433.15,645.92 426.65,645.92" fill="#fff" stroke="#bfbf00" stroke-width="3.3" stroke-linejoin="round"/>
<line x1="127.4" y1="888.63" x2="470.6" y2="888.63" stroke="#000" stroke-width="3.3" stroke-dasharray="6.6 10.6" stroke-linecap="round"/>
<g transform="translate(99.96,946.86) scale(1,1.04)" fill="#1e1e1e"><path transform="translate(-28.14,0) scale(0.01235,-0.01235)" d="M830,0 L560,0 L560,1050 Q450,955 150,850 L150,1095 Q420,1200 600,1466 L830,1466 Z"/><text x="-14.07" y="0" font-size="25.3" font-family="Liberation Sans, sans-serif" font-weight="bold">0</text></g>
<g transform="translate(112.3,938) scale(1,1.04)" fill="#1e1e1e"><text x="-9.23" y="0" font-size="16.6" font-family="Liberation Sans, sans-serif" font-weight="bold">0</text></g>
<g transform="translate(99.96,897.48) scale(1,1.04)" fill="#1e1e1e"><path transform="translate(-28.14,0) scale(0.01235,-0.01235)" d="M830,0 L560,0 L560,1050 Q450,955 150,850 L150,1095 Q420,1200 600,1466 L830,1466 Z"/><text x="-14.07" y="0" font-size="25.3" font-family="Liberation Sans, sans-serif" font-weight="bold">0</text></g>
<g transform="translate(112.3,888.63) scale(1,1.04)" fill="#1e1e1e"><path transform="translate(-9.23,0) scale(0.00811,-0.00811)" d="M830,0 L560,0 L560,1050 Q450,955 150,850 L150,1095 Q420,1200 600,1466 L830,1466 Z"/></g>
<g transform="translate(99.96,848.11) scale(1,1.04)" fill="#1e1e1e"><path transform="translate(-28.14,0) scale(0.01235,-0.01235)" d="M830,0 L560,0 L560,1050 Q450,955 150,850 L150,1095 Q420,1200 600,1466 L830,1466 Z"/><text x="-14.07" y="0" font-size="25.3" font-family="Liberation Sans, sans-serif" font-weight="bold">0</text></g>
<g transform="translate(112.3,839.26) scale(1,1.04)" fill="#1e1e1e"><text x="-9.23" y="0" font-size="16.6" font-family="Liberation Sans, sans-serif" font-weight="bold">2</text></g>
<g transform="translate(99.96,798.74) scale(1,1.04)" fill="#1e1e1e"><path transform="translate(-28.14,0) scale(0.01235,-0.01235)" d="M830,0 L560,0 L560,1050 Q450,955 150,850 L150,1095 Q420,1200 600,1466 L830,1466 Z"/><text x="-14.07" y="0" font-size="25.3" font-family="Liberation Sans, sans-serif" font-weight="bold">0</text></g>
<g transform="translate(112.3,789.89) scale(1,1.04)" fill="#1e1e1e"><text x="-9.23" y="0" font-size="16.6" font-family="Liberation Sans, sans-serif" font-weight="bold">3</text></g>
<g transform="translate(99.96,749.37) scale(1,1.04)" fill="#1e1e1e"><path transform="translate(-28.14,0) scale(0.01235,-0.01235)" d="M830,0 L560,0 L560,1050 Q450,955 150,850 L150,1095 Q420,1200 600,1466 L830,1466 Z"/><text x="-14.07" y="0" font-size="25.3" font-family="Liberation Sans, sans-serif" font-weight="bold">0</text></g>
<g transform="translate(112.3,740.51) scale(1,1.04)" fill="#1e1e1e"><text x="-9.23" y="0" font-size="16.6" font-family="Liberation Sans, sans-serif" font-weight="bold">4</text></g>
<g transform="translate(99.96,700) scale(1,1.04)" fill="#1e1e1e"><path transform="translate(-28.14,0) scale(0.01235,-0.01235)" d="M830,0 L560,0 L560,1050 Q450,955 150,850 L150,1095 Q420,1200 600,1466 L830,1466 Z"/><text x="-14.07" y="0" font-size="25.3" font-family="Liberation Sans, sans-serif" font-weight="bold">0</text></g>
<g transform="translate(112.3,691.14) scale(1,1.04)" fill="#1e1e1e"><text x="-9.23" y="0" font-size="16.6" font-family="Liberation Sans, sans-serif" font-weight="bold">5</text></g>
<g transform="translate(99.96,650.63) scale(1,1.04)" fill="#1e1e1e"><path transform="translate(-28.14,0) scale(0.01235,-0.01235)" d="M830,0 L560,0 L560,1050 Q450,955 150,850 L150,1095 Q420,1200 600,1466 L830,1466 Z"/><text x="-14.07" y="0" font-size="25.3" font-family="Liberation Sans, sans-serif" font-weight="bold">0</text></g>
<g transform="translate(112.3,641.77) scale(1,1.04)" fill="#1e1e1e"><text x="-9.23" y="0" font-size="16.6" font-family="Liberation Sans, sans-serif" font-weight="bold">6</text></g>
<g transform="translate(99.96,601.25) scale(1,1.04)" fill="#1e1e1e"><path transform="translate(-28.14,0) scale(0.01235,-0.01235)" d="M830,0 L560,0 L560,1050 Q450,955 150,850 L150,1095 Q420,1200 600,1466 L830,1466 Z"/><text x="-14.07" y="0" font-size="25.3" font-family="Liberation Sans, sans-serif" font-weight="bold">0</text></g>
<g transform="translate(112.3,592.4) scale(1,1.04)" fill="#1e1e1e"><text x="-9.23" y="0" font-size="16.6" font-family="Liberation Sans, sans-serif" font-weight="bold">7</text></g>
<g transform="translate(179.1,971.5) rotate(-45) scale(1,1.04)" fill="#1e1e1e"><text x="-116.89" y="0" font-size="26.3" font-family="Liberation Sans, sans-serif" font-weight="bold">Inoculum</text></g>
<g transform="translate(244.2,971.5) rotate(-45) scale(1,1.04)" fill="#1e1e1e"><path transform="translate(-30.69,0) scale(0.01284,-0.01284)" d="M830,0 L560,0 L560,1050 Q450,955 150,850 L150,1095 Q420,1200 600,1466 L830,1466 Z"/><text x="-16.07" y="0" font-size="26.3" font-family="Liberation Sans, sans-serif" font-weight="bold">h</text></g>
<g transform="translate(309.3,971.5) rotate(-45) scale(1,1.04)" fill="#1e1e1e"><text x="-45.32" y="0" font-size="26.3" font-family="Liberation Sans, sans-serif" font-weight="bold">24h</text></g>
<g transform="translate(374.2,971.5) rotate(-45) scale(1,1.04)" fill="#1e1e1e"><text x="-45.32" y="0" font-size="26.3" font-family="Liberation Sans, sans-serif" font-weight="bold">48h</text></g>
<g transform="translate(439.2,971.5) rotate(-45) scale(1,1.04)" fill="#1e1e1e"><text x="-45.32" y="0" font-size="26.3" font-family="Liberation Sans, sans-serif" font-weight="bold">72h</text></g>
<g transform="translate(132.5,623.5) scale(1,1.04)" fill="#1e1e1e"><text x="0" y="0" font-size="25.4" font-family="Liberation Sans, sans-serif" font-weight="bold">Calu-3</text></g>
<g transform="translate(48.2,765.2) rotate(-90) scale(1,1.04)" fill="#1e1e1e"><text x="-84.57" y="0" font-size="25.8" font-family="Liberation Sans, sans-serif" font-weight="bold">Titer [PFU/ml]</text></g>
<rect x="672" y="192.5" width="43" height="196.1" fill="#0d4fcc"/>
<rect x="736.7" y="214.2" width="43" height="174.4" fill="#0e9662"/>
<rect x="801.5" y="194.1" width="43" height="194.5" fill="#6f079a"/>
<rect x="866.3" y="234.2" width="43" height="154.4" fill="#808080"/>
<rect x="931" y="182.4" width="43" height="206.2" fill="#bfbf00"/>
<line x1="693.5" y1="186.3" x2="693.5" y2="200.6" stroke="#000" stroke-width="2.8"/><line x1="683" y1="186.3" x2="704" y2="186.3" stroke="#000" stroke-width="2.8"/><line x1="683" y1="200.6" x2="704" y2="200.6" stroke="#000" stroke-width="2.8"/>
<circle cx="679.6" cy="185.3" r="5.1" fill="#fff" stroke="#000" stroke-width="3.2"/>
<circle cx="693.6" cy="197" r="5.1" fill="#fff" stroke="#000" stroke-width="3.2"/>
<circle cx="707.3" cy="196.7" r="5.1" fill="#fff" stroke="#000" stroke-width="3.2"/>
<line x1="758.2" y1="209" x2="758.2" y2="218.4" stroke="#000" stroke-width="2.8"/><line x1="747.7" y1="209" x2="768.7" y2="209" stroke="#000" stroke-width="2.8"/><line x1="747.7" y1="218.4" x2="768.7" y2="218.4" stroke="#000" stroke-width="2.8"/>
<circle cx="744.3" cy="209" r="5.1" fill="#fff" stroke="#000" stroke-width="3.2"/>
<circle cx="758.4" cy="216.6" r="5.1" fill="#fff" stroke="#000" stroke-width="3.2"/>
<circle cx="771.9" cy="216.2" r="5.1" fill="#fff" stroke="#000" stroke-width="3.2"/>
<line x1="823" y1="188" x2="823" y2="202.7" stroke="#000" stroke-width="2.8"/><line x1="812.5" y1="188" x2="833.5" y2="188" stroke="#000" stroke-width="2.8"/><line x1="812.5" y1="202.7" x2="833.5" y2="202.7" stroke="#000" stroke-width="2.8"/>
<circle cx="809.3" cy="188.6" r="5.1" fill="#fff" stroke="#000" stroke-width="3.2"/>
<circle cx="837.2" cy="192.2" r="5.1" fill="#fff" stroke="#000" stroke-width="3.2"/>
<circle cx="823.1" cy="204.2" r="5.1" fill="#fff" stroke="#000" stroke-width="3.2"/>
<line x1="887.8" y1="225.5" x2="887.8" y2="247" stroke="#000" stroke-width="2.8"/><line x1="877.3" y1="225.5" x2="898.3" y2="225.5" stroke="#000" stroke-width="2.8"/><line x1="877.3" y1="247" x2="898.3" y2="247" stroke="#000" stroke-width="2.8"/>
<circle cx="887.7" cy="225.1" r="5.1" fill="#fff" stroke="#000" stroke-width="3.2"/>
<circle cx="895.3" cy="235.2" r="5.1" fill="#fff" stroke="#000" stroke-width="3.2"/>
<circle cx="879.6" cy="246" r="5.1" fill="#fff" stroke="#000" stroke-width="3.2"/>
<line x1="952.5" y1="179.5" x2="952.5" y2="184.3" stroke="#000" stroke-width="2.8"/><line x1="942" y1="179.5" x2="963" y2="179.5" stroke="#000" stroke-width="2.8"/><line x1="942" y1="184.3" x2="963" y2="184.3" stroke="#000" stroke-width="2.8"/>
<circle cx="938.5" cy="179.1" r="5.1" fill="#fff" stroke="#000" stroke-width="3.2"/>
<circle cx="952.3" cy="184.8" r="5.1" fill="#fff" stroke="#000" stroke-width="3.2"/>
<circle cx="966.4" cy="183.3" r="5.1" fill="#fff" stroke="#000" stroke-width="3.2"/>
<path d="M699.6,166.7 V157.5 H754.8 V166.7" fill="none" stroke="#000" stroke-width="2.9"/>
<g transform="translate(731.25,153.9) scale(1,1.04)" fill="#1e1e1e"><text x="-12.79" y="0" font-size="18.5" letter-spacing="2.0" font-family="Liberation Sans, sans-serif" font-weight="bold">ns</text></g>
<path d="M763.3,166.7 V157.5 H818.5 V166.7" fill="none" stroke="#000" stroke-width="2.9"/>
<g transform="translate(793.6,153.9) scale(1,1.04)" fill="#1e1e1e"><text x="-12.79" y="0" font-size="18.5" letter-spacing="2.0" font-family="Liberation Sans, sans-serif" font-weight="bold">ns</text></g>
<path d="M826.8,166.7 V157.5 H882.2 V166.7" fill="none" stroke="#000" stroke-width="2.9"/>
<g transform="translate(855.3,161.7)" fill="#1e1e1e"><text x="-5.55" y="0" font-size="28.5" font-family="Liberation Sans, sans-serif" font-weight="bold">*</text></g>
<path d="M891,166.7 V157.5 H946.2 V166.7" fill="none" stroke="#000" stroke-width="2.9"/>
<g transform="translate(918.9,161.7)" fill="#1e1e1e"><text x="-11.09" y="0" font-size="28.5" font-family="Liberation Sans, sans-serif" font-weight="bold">**</text></g>
<path d="M699.6,147.7 V138.5 H818.5 V147.7" fill="none" stroke="#000" stroke-width="2.9"/>
<g transform="translate(765.75,134.9) scale(1,1.04)" fill="#1e1e1e"><text x="-12.79" y="0" font-size="18.5" letter-spacing="2.0" font-family="Liberation Sans, sans-serif" font-weight="bold">ns</text></g>
<path d="M826.8,147.7 V138.5 H946.2 V147.7" fill="none" stroke="#000" stroke-width="2.9"/>
<g transform="translate(886.5,142.7)" fill="#1e1e1e"><text x="-5.55" y="0" font-size="28.5" font-family="Liberation Sans, sans-serif" font-weight="bold">*</text></g>
<path d="M699.6,128.6 V119.4 H946.2 V128.6" fill="none" stroke="#000" stroke-width="2.9"/>
<g transform="translate(826.1,115.8) scale(1,1.04)" fill="#1e1e1e"><text x="-12.79" y="0" font-size="18.5" letter-spacing="2.0" font-family="Liberation Sans, sans-serif" font-weight="bold">ns</text></g>
<path d="M699.6,109.5 V100.3 H882.2 V109.5" fill="none" stroke="#000" stroke-width="2.9"/>
<g transform="translate(795,104.5)" fill="#1e1e1e"><text x="-5.55" y="0" font-size="28.5" font-family="Liberation Sans, sans-serif" font-weight="bold">*</text></g>
<path d="M763.3,90.7 V81.5 H946.2 V90.7" fill="none" stroke="#000" stroke-width="2.9"/>
<g transform="translate(860.45,85.7)" fill="#1e1e1e"><text x="-11.09" y="0" font-size="28.5" font-family="Liberation Sans, sans-serif" font-weight="bold">**</text></g>
<path d="M763.3,71.6 V62.4 H882.2 V71.6" fill="none" stroke="#000" stroke-width="2.9"/>
<g transform="translate(824.75,66.6)" fill="#1e1e1e"><text x="-5.55" y="0" font-size="28.5" font-family="Liberation Sans, sans-serif" font-weight="bold">*</text></g>
<rect x="650.5" y="43.4" width="345.2" height="345.2" fill="none" stroke="#000" stroke-width="3.2"/>
<line x1="640.3" y1="388.6" x2="650.5" y2="388.6" stroke="#000" stroke-width="3.0"/><line x1="644.9" y1="371.28" x2="650.5" y2="371.28" stroke="#000" stroke-width="3.3"/><line x1="644.9" y1="361.15" x2="650.5" y2="361.15" stroke="#000" stroke-width="3.3"/><line x1="644.9" y1="353.96" x2="650.5" y2="353.96" stroke="#000" stroke-width="3.3"/><line x1="644.9" y1="348.39" x2="650.5" y2="348.39" stroke="#000" stroke-width="3.3"/><line x1="644.9" y1="343.83" x2="650.5" y2="343.83" stroke="#000" stroke-width="3.3"/><line x1="644.9" y1="339.98" x2="650.5" y2="339.98" stroke="#000" stroke-width="3.3"/><line x1="644.9" y1="336.64" x2="650.5" y2="336.64" stroke="#000" stroke-width="3.3"/><line x1="644.9" y1="333.7" x2="650.5" y2="333.7" stroke="#000" stroke-width="3.3"/><line x1="640.3" y1="331.07" x2="650.5" y2="331.07" stroke="#000" stroke-width="3.0"/><line x1="644.9" y1="313.75" x2="650.5" y2="313.75" stroke="#000" stroke-width="3.3"/><line x1="644.9" y1="303.62" x2="650.5" y2="303.62" stroke="#000" stroke-width="3.3"/><line x1="644.9" y1="296.43" x2="650.5" y2="296.43" stroke="#000" stroke-width="3.3"/><line x1="644.9" y1="290.85" x2="650.5" y2="290.85" stroke="#000" stroke-width="3.3"/><line x1="644.9" y1="286.3" x2="650.5" y2="286.3" stroke="#000" stroke-width="3.3"/><line x1="644.9" y1="282.45" x2="650.5" y2="282.45" stroke="#000" stroke-width="3.3"/><line x1="644.9" y1="279.11" x2="650.5" y2="279.11" stroke="#000" stroke-width="3.3"/><line x1="644.9" y1="276.17" x2="650.5" y2="276.17" stroke="#000" stroke-width="3.3"/><line x1="640.3" y1="273.53" x2="650.5" y2="273.53" stroke="#000" stroke-width="3.0"/><line x1="644.9" y1="256.21" x2="650.5" y2="256.21" stroke="#000" stroke-width="3.3"/><line x1="644.9" y1="246.08" x2="650.5" y2="246.08" stroke="#000" stroke-width="3.3"/><line x1="644.9" y1="238.89" x2="650.5" y2="238.89" stroke="#000" stroke-width="3.3"/><line x1="644.9" y1="233.32" x2="650.5" y2="233.32" stroke="#000" stroke-width="3.3"/><line x1="644.9" y1="228.76" x2="650.5" y2="228.76" stroke="#000" stroke-width="3.3"/><line x1="644.9" y1="224.91" x2="650.5" y2="224.91" stroke="#000" stroke-width="3.3"/><line x1="644.9" y1="221.58" x2="650.5" y2="221.58" stroke="#000" stroke-width="3.3"/><line x1="644.9" y1="218.63" x2="650.5" y2="218.63" stroke="#000" stroke-width="3.3"/><line x1="640.3" y1="216" x2="650.5" y2="216" stroke="#000" stroke-width="3.0"/><line x1="644.9" y1="198.68" x2="650.5" y2="198.68" stroke="#000" stroke-width="3.3"/><line x1="644.9" y1="188.55" x2="650.5" y2="188.55" stroke="#000" stroke-width="3.3"/><line x1="644.9" y1="181.36" x2="650.5" y2="181.36" stroke="#000" stroke-width="3.3"/><line x1="644.9" y1="175.79" x2="650.5" y2="175.79" stroke="#000" stroke-width="3.3"/><line x1="644.9" y1="171.23" x2="650.5" y2="171.23" stroke="#000" stroke-width="3.3"/><line x1="644.9" y1="167.38" x2="650.5" y2="167.38" stroke="#000" stroke-width="3.3"/><line x1="644.9" y1="164.04" x2="650.5" y2="164.04" stroke="#000" stroke-width="3.3"/><line x1="644.9" y1="161.1" x2="650.5" y2="161.1" stroke="#000" stroke-width="3.3"/><line x1="640.3" y1="158.47" x2="650.5" y2="158.47" stroke="#000" stroke-width="3.0"/><line x1="644.9" y1="141.15" x2="650.5" y2="141.15" stroke="#000" stroke-width="3.3"/><line x1="644.9" y1="131.02" x2="650.5" y2="131.02" stroke="#000" stroke-width="3.3"/><line x1="644.9" y1="123.83" x2="650.5" y2="123.83" stroke="#000" stroke-width="3.3"/><line x1="644.9" y1="118.25" x2="650.5" y2="118.25" stroke="#000" stroke-width="3.3"/><line x1="644.9" y1="113.7" x2="650.5" y2="113.7" stroke="#000" stroke-width="3.3"/><line x1="644.9" y1="109.85" x2="650.5" y2="109.85" stroke="#000" stroke-width="3.3"/><line x1="644.9" y1="106.51" x2="650.5" y2="106.51" stroke="#000" stroke-width="3.3"/><line x1="644.9" y1="103.57" x2="650.5" y2="103.57" stroke="#000" stroke-width="3.3"/><line x1="640.3" y1="100.93" x2="650.5" y2="100.93" stroke="#000" stroke-width="3.0"/><line x1="644.9" y1="83.61" x2="650.5" y2="83.61" stroke="#000" stroke-width="3.3"/><line x1="644.9" y1="73.48" x2="650.5" y2="73.48" stroke="#000" stroke-width="3.3"/><line x1="644.9" y1="66.29" x2="650.5" y2="66.29" stroke="#000" stroke-width="3.3"/><line x1="644.9" y1="60.72" x2="650.5" y2="60.72" stroke="#000" stroke-width="3.3"/><line x1="644.9" y1="56.16" x2="650.5" y2="56.16" stroke="#000" stroke-width="3.3"/><line x1="644.9" y1="52.31" x2="650.5" y2="52.31" stroke="#000" stroke-width="3.3"/><line x1="644.9" y1="48.98" x2="650.5" y2="48.98" stroke="#000" stroke-width="3.3"/><line x1="644.9" y1="46.03" x2="650.5" y2="46.03" stroke="#000" stroke-width="3.3"/><line x1="640.3" y1="43.4" x2="650.5" y2="43.4" stroke="#000" stroke-width="3.0"/>
<g transform="translate(624.96,397.46) scale(1,1.04)" fill="#1e1e1e"><path transform="translate(-28.14,0) scale(0.01235,-0.01235)" d="M830,0 L560,0 L560,1050 Q450,955 150,850 L150,1095 Q420,1200 600,1466 L830,1466 Z"/><text x="-14.07" y="0" font-size="25.3" font-family="Liberation Sans, sans-serif" font-weight="bold">0</text></g>
<g transform="translate(637.3,388.6) scale(1,1.04)" fill="#1e1e1e"><text x="-9.23" y="0" font-size="16.6" font-family="Liberation Sans, sans-serif" font-weight="bold">4</text></g>
<g transform="translate(624.96,339.92) scale(1,1.04)" fill="#1e1e1e"><path transform="translate(-28.14,0) scale(0.01235,-0.01235)" d="M830,0 L560,0 L560,1050 Q450,955 150,850 L150,1095 Q420,1200 600,1466 L830,1466 Z"/><text x="-14.07" y="0" font-size="25.3" font-family="Liberation Sans, sans-serif" font-weight="bold">0</text></g>
<g transform="translate(637.3,331.07) scale(1,1.04)" fill="#1e1e1e"><text x="-9.23" y="0" font-size="16.6" font-family="Liberation Sans, sans-serif" font-weight="bold">5</text></g>
<g transform="translate(624.96,282.39) scale(1,1.04)" fill="#1e1e1e"><path transform="translate(-28.14,0) scale(0.01235,-0.01235)" d="M830,0 L560,0 L560,1050 Q450,955 150,850 L150,1095 Q420,1200 600,1466 L830,1466 Z"/><text x="-14.07" y="0" font-size="25.3" font-family="Liberation Sans, sans-serif" font-weight="bold">0</text></g>
<g transform="translate(637.3,273.53) scale(1,1.04)" fill="#1e1e1e"><text x="-9.23" y="0" font-size="16.6" font-family="Liberation Sans, sans-serif" font-weight="bold">6</text></g>
<g transform="translate(624.96,224.85) scale(1,1.04)" fill="#1e1e1e"><path transform="translate(-28.14,0) scale(0.01235,-0.01235)" d="M830,0 L560,0 L560,1050 Q450,955 150,850 L150,1095 Q420,1200 600,1466 L830,1466 Z"/><text x="-14.07" y="0" font-size="25.3" font-family="Liberation Sans, sans-serif" font-weight="bold">0</text></g>
<g transform="translate(637.3,216) scale(1,1.04)" fill="#1e1e1e"><text x="-9.23" y="0" font-size="16.6" font-family="Liberation Sans, sans-serif" font-weight="bold">7</text></g>
<g transform="translate(624.96,167.32) scale(1,1.04)" fill="#1e1e1e"><path transform="translate(-28.14,0) scale(0.01235,-0.01235)" d="M830,0 L560,0 L560,1050 Q450,955 150,850 L150,1095 Q420,1200 600,1466 L830,1466 Z"/><text x="-14.07" y="0" font-size="25.3" font-family="Liberation Sans, sans-serif" font-weight="bold">0</text></g>
<g transform="translate(637.3,158.47) scale(1,1.04)" fill="#1e1e1e"><text x="-9.23" y="0" font-size="16.6" font-family="Liberation Sans, sans-serif" font-weight="bold">8</text></g>
<g transform="translate(624.96,109.79) scale(1,1.04)" fill="#1e1e1e"><path transform="translate(-28.14,0) scale(0.01235,-0.01235)" d="M830,0 L560,0 L560,1050 Q450,955 150,850 L150,1095 Q420,1200 600,1466 L830,1466 Z"/><text x="-14.07" y="0" font-size="25.3" font-family="Liberation Sans, sans-serif" font-weight="bold">0</text></g>
<g transform="translate(637.3,100.93) scale(1,1.04)" fill="#1e1e1e"><text x="-9.23" y="0" font-size="16.6" font-family="Liberation Sans, sans-serif" font-weight="bold">9</text></g>
<g transform="translate(615.73,52.25) scale(1,1.04)" fill="#1e1e1e"><path transform="translate(-28.14,0) scale(0.01235,-0.01235)" d="M830,0 L560,0 L560,1050 Q450,955 150,850 L150,1095 Q420,1200 600,1466 L830,1466 Z"/><text x="-14.07" y="0" font-size="25.3" font-family="Liberation Sans, sans-serif" font-weight="bold">0</text></g>
<g transform="translate(637.3,43.4) scale(1,1.04)" fill="#1e1e1e"><path transform="translate(-18.46,0) scale(0.00811,-0.00811)" d="M830,0 L560,0 L560,1050 Q450,955 150,850 L150,1095 Q420,1200 600,1466 L830,1466 Z"/><text x="-9.23" y="0" font-size="16.6" font-family="Liberation Sans, sans-serif" font-weight="bold">0</text></g>
<line x1="693.5" y1="388.6" x2="693.5" y2="398.1" stroke="#000" stroke-width="3.0"/>
<line x1="758.2" y1="388.6" x2="758.2" y2="398.1" stroke="#000" stroke-width="3.0"/>
<line x1="823" y1="388.6" x2="823" y2="398.1" stroke="#000" stroke-width="3.0"/>
<line x1="887.8" y1="388.6" x2="887.8" y2="398.1" stroke="#000" stroke-width="3.0"/>
<line x1="952.5" y1="388.6" x2="952.5" y2="398.1" stroke="#000" stroke-width="3.0"/>
<g transform="translate(701.5,421.2) rotate(-45) scale(1,1.04)" fill="#1e1e1e"><text x="-40.46" y="0" font-size="26" font-family="Liberation Sans, sans-serif" font-weight="bold">B.</text><path transform="translate(-14.46,0) scale(0.01270,-0.01270)" d="M830,0 L560,0 L560,1050 Q450,955 150,850 L150,1095 Q420,1200 600,1466 L830,1466 Z"/></g>
<g transform="translate(766.2,421.2) rotate(-45) scale(1,1.04)" fill="#1e1e1e"><text x="-59.24" y="0" font-size="26" font-family="Liberation Sans, sans-serif" font-weight="bold">BA.</text><path transform="translate(-14.46,0) scale(0.01270,-0.01270)" d="M830,0 L560,0 L560,1050 Q450,955 150,850 L150,1095 Q420,1200 600,1466 L830,1466 Z"/></g>
<g transform="translate(831,421.2) rotate(-45) scale(1,1.04)" fill="#1e1e1e"><text x="-59.24" y="0" font-size="26" font-family="Liberation Sans, sans-serif" font-weight="bold">BA.2</text></g>
<g transform="translate(895.8,421.2) rotate(-45) scale(1,1.04)" fill="#1e1e1e"><text x="-59.24" y="0" font-size="26" font-family="Liberation Sans, sans-serif" font-weight="bold">BA.4</text></g>
<g transform="translate(960.5,421.2) rotate(-45) scale(1,1.04)" fill="#1e1e1e"><text x="-59.24" y="0" font-size="26" font-family="Liberation Sans, sans-serif" font-weight="bold">BA.5</text></g>
<g transform="translate(657.2,73.7) scale(1,1.04)" fill="#1e1e1e"><text x="0" y="0" font-size="25.8" font-family="Liberation Sans, sans-serif" font-weight="bold">Vero</text></g>
<g transform="translate(566,216) rotate(-90) scale(1,1.04)" fill="#1e1e1e"><text x="-86.8" y="0" font-size="25.2" font-family="Liberation Sans, sans-serif" font-weight="bold">AUC (</text><path transform="translate(-16.81,0) scale(0.01230,-0.01230)" d="M830,0 L560,0 L560,1050 Q450,955 150,850 L150,1095 Q420,1200 600,1466 L830,1466 Z"/><text x="-2.8" y="0" font-size="25.2" font-family="Liberation Sans, sans-serif" font-weight="bold">h - 72h)</text></g>
<rect x="673.8" y="732.6" width="43" height="205.4" fill="#0d4fcc"/>
<rect x="738.7" y="825.7" width="43" height="112.3" fill="#0e9662"/>
<rect x="803.5" y="848" width="43" height="90" fill="#6f079a"/>
<rect x="868.5" y="865" width="43" height="73" fill="#808080"/>
<rect x="933.5" y="748.5" width="43" height="189.5" fill="#bfbf00"/>
<line x1="695.3" y1="731" x2="695.3" y2="734" stroke="#000" stroke-width="2.8"/><line x1="684.8" y1="731" x2="705.8" y2="731" stroke="#000" stroke-width="2.8"/><line x1="684.8" y1="734" x2="705.8" y2="734" stroke="#000" stroke-width="2.8"/>
<circle cx="681.3" cy="731.9" r="5.1" fill="#fff" stroke="#000" stroke-width="3.2"/>
<circle cx="695" cy="734.4" r="5.1" fill="#fff" stroke="#000" stroke-width="3.2"/>
<circle cx="709" cy="731.9" r="5.1" fill="#fff" stroke="#000" stroke-width="3.2"/>
<line x1="760.2" y1="811.3" x2="760.2" y2="864.1" stroke="#000" stroke-width="2.8"/><line x1="749.7" y1="811.3" x2="770.7" y2="811.3" stroke="#000" stroke-width="2.8"/><line x1="749.7" y1="864.1" x2="770.7" y2="864.1" stroke="#000" stroke-width="2.8"/>
<circle cx="760" cy="809" r="5.1" fill="#fff" stroke="#000" stroke-width="3.2"/>
<circle cx="768" cy="836" r="5.1" fill="#fff" stroke="#000" stroke-width="3.2"/>
<circle cx="752.4" cy="846.4" r="5.1" fill="#fff" stroke="#000" stroke-width="3.2"/>
<line x1="825" y1="841.7" x2="825" y2="855.6" stroke="#000" stroke-width="2.8"/><line x1="814.5" y1="841.7" x2="835.5" y2="841.7" stroke="#000" stroke-width="2.8"/><line x1="814.5" y1="855.6" x2="835.5" y2="855.6" stroke="#000" stroke-width="2.8"/>
<circle cx="811.3" cy="844.5" r="5.1" fill="#fff" stroke="#000" stroke-width="3.2"/>
<circle cx="838.7" cy="844.5" r="5.1" fill="#fff" stroke="#000" stroke-width="3.2"/>
<circle cx="825" cy="856.9" r="5.1" fill="#fff" stroke="#000" stroke-width="3.2"/>
<line x1="890" y1="851.2" x2="890" y2="894.9" stroke="#000" stroke-width="2.8"/><line x1="879.5" y1="851.2" x2="900.5" y2="851.2" stroke="#000" stroke-width="2.8"/><line x1="879.5" y1="894.9" x2="900.5" y2="894.9" stroke="#000" stroke-width="2.8"/>
<circle cx="889.6" cy="849.9" r="5.1" fill="#fff" stroke="#000" stroke-width="3.2"/>
<circle cx="882" cy="878.4" r="5.1" fill="#fff" stroke="#000" stroke-width="3.2"/>
<circle cx="897.6" cy="877.4" r="5.1" fill="#fff" stroke="#000" stroke-width="3.2"/>
<line x1="955" y1="746.5" x2="955" y2="750.5" stroke="#000" stroke-width="2.8"/><line x1="944.5" y1="746.5" x2="965.5" y2="746.5" stroke="#000" stroke-width="2.8"/><line x1="944.5" y1="750.5" x2="965.5" y2="750.5" stroke="#000" stroke-width="2.8"/>
<circle cx="941" cy="746.5" r="5.1" fill="#fff" stroke="#000" stroke-width="3.2"/>
<circle cx="954.8" cy="749.7" r="5.1" fill="#fff" stroke="#000" stroke-width="3.2"/>
<circle cx="968.8" cy="748.8" r="5.1" fill="#fff" stroke="#000" stroke-width="3.2"/>
<path d="M700.9,715.9 V706.7 H755.9 V715.9" fill="none" stroke="#000" stroke-width="2.9"/>
<g transform="translate(731.6,710.9)" fill="#1e1e1e"><text x="-16.64" y="0" font-size="28.5" font-family="Liberation Sans, sans-serif" font-weight="bold">***</text></g>
<path d="M764.9,715.9 V706.7 H820.4 V715.9" fill="none" stroke="#000" stroke-width="2.9"/>
<g transform="translate(795.15,703.1) scale(1,1.04)" fill="#1e1e1e"><text x="-12.79" y="0" font-size="18.5" letter-spacing="2.0" font-family="Liberation Sans, sans-serif" font-weight="bold">ns</text></g>
<path d="M829.2,715.9 V706.7 H884.6 V715.9" fill="none" stroke="#000" stroke-width="2.9"/>
<g transform="translate(858.35,703.1) scale(1,1.04)" fill="#1e1e1e"><text x="-12.79" y="0" font-size="18.5" letter-spacing="2.0" font-family="Liberation Sans, sans-serif" font-weight="bold">ns</text></g>
<path d="M893.5,715.9 V706.7 H948.5 V715.9" fill="none" stroke="#000" stroke-width="2.9"/>
<g transform="translate(921,710.9)" fill="#1e1e1e"><text x="-11.09" y="0" font-size="28.5" font-family="Liberation Sans, sans-serif" font-weight="bold">**</text></g>
<path d="M700.9,696.6 V687.4 H820.4 V696.6" fill="none" stroke="#000" stroke-width="2.9"/>
<g transform="translate(766.65,691.6)" fill="#1e1e1e"><text x="-11.09" y="0" font-size="28.5" font-family="Liberation Sans, sans-serif" font-weight="bold">**</text></g>
<path d="M829.2,696.6 V687.4 H948.5 V696.6" fill="none" stroke="#000" stroke-width="2.9"/>
<g transform="translate(888.2,691.6)" fill="#1e1e1e"><text x="-11.09" y="0" font-size="28.5" font-family="Liberation Sans, sans-serif" font-weight="bold">**</text></g>
<path d="M700.9,677.4 V668.2 H948.5 V677.4" fill="none" stroke="#000" stroke-width="2.9"/>
<g transform="translate(827.2,672.4)" fill="#1e1e1e"><text x="-16.64" y="0" font-size="28.5" font-family="Liberation Sans, sans-serif" font-weight="bold">***</text></g>
<path d="M700.9,658.3 V649.1 H884.3 V658.3" fill="none" stroke="#000" stroke-width="2.9"/>
<g transform="translate(796.8,653.3)" fill="#1e1e1e"><text x="-11.09" y="0" font-size="28.5" font-family="Liberation Sans, sans-serif" font-weight="bold">**</text></g>
<path d="M764.9,639.3 V630.1 H948.5 V639.3" fill="none" stroke="#000" stroke-width="2.9"/>
<g transform="translate(857.3,634.3)" fill="#1e1e1e"><text x="-16.64" y="0" font-size="28.5" font-family="Liberation Sans, sans-serif" font-weight="bold">***</text></g>
<path d="M764.9,620.1 V610.9 H884.3 V620.1" fill="none" stroke="#000" stroke-width="2.9"/>
<g transform="translate(827.4,607.3) scale(1,1.04)" fill="#1e1e1e"><text x="-12.79" y="0" font-size="18.5" letter-spacing="2.0" font-family="Liberation Sans, sans-serif" font-weight="bold">ns</text></g>
<rect x="651.5" y="592.2" width="345.8" height="345.8" fill="none" stroke="#000" stroke-width="3.2"/>
<line x1="641.3" y1="938" x2="651.5" y2="938" stroke="#000" stroke-width="3.0"/><line x1="645.9" y1="920.65" x2="651.5" y2="920.65" stroke="#000" stroke-width="3.3"/><line x1="645.9" y1="910.5" x2="651.5" y2="910.5" stroke="#000" stroke-width="3.3"/><line x1="645.9" y1="903.3" x2="651.5" y2="903.3" stroke="#000" stroke-width="3.3"/><line x1="645.9" y1="897.72" x2="651.5" y2="897.72" stroke="#000" stroke-width="3.3"/><line x1="645.9" y1="893.15" x2="651.5" y2="893.15" stroke="#000" stroke-width="3.3"/><line x1="645.9" y1="889.29" x2="651.5" y2="889.29" stroke="#000" stroke-width="3.3"/><line x1="645.9" y1="885.95" x2="651.5" y2="885.95" stroke="#000" stroke-width="3.3"/><line x1="645.9" y1="883" x2="651.5" y2="883" stroke="#000" stroke-width="3.3"/><line x1="641.3" y1="880.37" x2="651.5" y2="880.37" stroke="#000" stroke-width="3.0"/><line x1="645.9" y1="863.02" x2="651.5" y2="863.02" stroke="#000" stroke-width="3.3"/><line x1="645.9" y1="852.87" x2="651.5" y2="852.87" stroke="#000" stroke-width="3.3"/><line x1="645.9" y1="845.67" x2="651.5" y2="845.67" stroke="#000" stroke-width="3.3"/><line x1="645.9" y1="840.08" x2="651.5" y2="840.08" stroke="#000" stroke-width="3.3"/><line x1="645.9" y1="835.52" x2="651.5" y2="835.52" stroke="#000" stroke-width="3.3"/><line x1="645.9" y1="831.66" x2="651.5" y2="831.66" stroke="#000" stroke-width="3.3"/><line x1="645.9" y1="828.32" x2="651.5" y2="828.32" stroke="#000" stroke-width="3.3"/><line x1="645.9" y1="825.37" x2="651.5" y2="825.37" stroke="#000" stroke-width="3.3"/><line x1="641.3" y1="822.73" x2="651.5" y2="822.73" stroke="#000" stroke-width="3.0"/><line x1="645.9" y1="805.38" x2="651.5" y2="805.38" stroke="#000" stroke-width="3.3"/><line x1="645.9" y1="795.24" x2="651.5" y2="795.24" stroke="#000" stroke-width="3.3"/><line x1="645.9" y1="788.03" x2="651.5" y2="788.03" stroke="#000" stroke-width="3.3"/><line x1="645.9" y1="782.45" x2="651.5" y2="782.45" stroke="#000" stroke-width="3.3"/><line x1="645.9" y1="777.89" x2="651.5" y2="777.89" stroke="#000" stroke-width="3.3"/><line x1="645.9" y1="774.03" x2="651.5" y2="774.03" stroke="#000" stroke-width="3.3"/><line x1="645.9" y1="770.69" x2="651.5" y2="770.69" stroke="#000" stroke-width="3.3"/><line x1="645.9" y1="767.74" x2="651.5" y2="767.74" stroke="#000" stroke-width="3.3"/><line x1="641.3" y1="765.1" x2="651.5" y2="765.1" stroke="#000" stroke-width="3.0"/><line x1="645.9" y1="747.75" x2="651.5" y2="747.75" stroke="#000" stroke-width="3.3"/><line x1="645.9" y1="737.6" x2="651.5" y2="737.6" stroke="#000" stroke-width="3.3"/><line x1="645.9" y1="730.4" x2="651.5" y2="730.4" stroke="#000" stroke-width="3.3"/><line x1="645.9" y1="724.82" x2="651.5" y2="724.82" stroke="#000" stroke-width="3.3"/><line x1="645.9" y1="720.25" x2="651.5" y2="720.25" stroke="#000" stroke-width="3.3"/><line x1="645.9" y1="716.39" x2="651.5" y2="716.39" stroke="#000" stroke-width="3.3"/><line x1="645.9" y1="713.05" x2="651.5" y2="713.05" stroke="#000" stroke-width="3.3"/><line x1="645.9" y1="710.1" x2="651.5" y2="710.1" stroke="#000" stroke-width="3.3"/><line x1="641.3" y1="707.47" x2="651.5" y2="707.47" stroke="#000" stroke-width="3.0"/><line x1="645.9" y1="690.12" x2="651.5" y2="690.12" stroke="#000" stroke-width="3.3"/><line x1="645.9" y1="679.97" x2="651.5" y2="679.97" stroke="#000" stroke-width="3.3"/><line x1="645.9" y1="672.77" x2="651.5" y2="672.77" stroke="#000" stroke-width="3.3"/><line x1="645.9" y1="667.18" x2="651.5" y2="667.18" stroke="#000" stroke-width="3.3"/><line x1="645.9" y1="662.62" x2="651.5" y2="662.62" stroke="#000" stroke-width="3.3"/><line x1="645.9" y1="658.76" x2="651.5" y2="658.76" stroke="#000" stroke-width="3.3"/><line x1="645.9" y1="655.42" x2="651.5" y2="655.42" stroke="#000" stroke-width="3.3"/><line x1="645.9" y1="652.47" x2="651.5" y2="652.47" stroke="#000" stroke-width="3.3"/><line x1="641.3" y1="649.83" x2="651.5" y2="649.83" stroke="#000" stroke-width="3.0"/><line x1="645.9" y1="632.48" x2="651.5" y2="632.48" stroke="#000" stroke-width="3.3"/><line x1="645.9" y1="622.34" x2="651.5" y2="622.34" stroke="#000" stroke-width="3.3"/><line x1="645.9" y1="615.13" x2="651.5" y2="615.13" stroke="#000" stroke-width="3.3"/><line x1="645.9" y1="609.55" x2="651.5" y2="609.55" stroke="#000" stroke-width="3.3"/><line x1="645.9" y1="604.99" x2="651.5" y2="604.99" stroke="#000" stroke-width="3.3"/><line x1="645.9" y1="601.13" x2="651.5" y2="601.13" stroke="#000" stroke-width="3.3"/><line x1="645.9" y1="597.79" x2="651.5" y2="597.79" stroke="#000" stroke-width="3.3"/><line x1="645.9" y1="594.84" x2="651.5" y2="594.84" stroke="#000" stroke-width="3.3"/><line x1="641.3" y1="592.2" x2="651.5" y2="592.2" stroke="#000" stroke-width="3.0"/>
<g transform="translate(625.96,946.86) scale(1,1.04)" fill="#1e1e1e"><path transform="translate(-28.14,0) scale(0.01235,-0.01235)" d="M830,0 L560,0 L560,1050 Q450,955 150,850 L150,1095 Q420,1200 600,1466 L830,1466 Z"/><text x="-14.07" y="0" font-size="25.3" font-family="Liberation Sans, sans-serif" font-weight="bold">0</text></g>
<g transform="translate(638.3,938) scale(1,1.04)" fill="#1e1e1e"><text x="-9.23" y="0" font-size="16.6" font-family="Liberation Sans, sans-serif" font-weight="bold">4</text></g>
<g transform="translate(625.96,889.22) scale(1,1.04)" fill="#1e1e1e"><path transform="translate(-28.14,0) scale(0.01235,-0.01235)" d="M830,0 L560,0 L560,1050 Q450,955 150,850 L150,1095 Q420,1200 600,1466 L830,1466 Z"/><text x="-14.07" y="0" font-size="25.3" font-family="Liberation Sans, sans-serif" font-weight="bold">0</text></g>
<g transform="translate(638.3,880.37) scale(1,1.04)" fill="#1e1e1e"><text x="-9.23" y="0" font-size="16.6" font-family="Liberation Sans, sans-serif" font-weight="bold">5</text></g>
<g transform="translate(625.96,831.59) scale(1,1.04)" fill="#1e1e1e"><path transform="translate(-28.14,0) scale(0.01235,-0.01235)" d="M830,0 L560,0 L560,1050 Q450,955 150,850 L150,1095 Q420,1200 600,1466 L830,1466 Z"/><text x="-14.07" y="0" font-size="25.3" font-family="Liberation Sans, sans-serif" font-weight="bold">0</text></g>
<g transform="translate(638.3,822.73) scale(1,1.04)" fill="#1e1e1e"><text x="-9.23" y="0" font-size="16.6" font-family="Liberation Sans, sans-serif" font-weight="bold">6</text></g>
<g transform="translate(625.96,773.96) scale(1,1.04)" fill="#1e1e1e"><path transform="translate(-28.14,0) scale(0.01235,-0.01235)" d="M830,0 L560,0 L560,1050 Q450,955 150,850 L150,1095 Q420,1200 600,1466 L830,1466 Z"/><text x="-14.07" y="0" font-size="25.3" font-family="Liberation Sans, sans-serif" font-weight="bold">0</text></g>
<g transform="translate(638.3,765.1) scale(1,1.04)" fill="#1e1e1e"><text x="-9.23" y="0" font-size="16.6" font-family="Liberation Sans, sans-serif" font-weight="bold">7</text></g>
<g transform="translate(625.96,716.32) scale(1,1.04)" fill="#1e1e1e"><path transform="translate(-28.14,0) scale(0.01235,-0.01235)" d="M830,0 L560,0 L560,1050 Q450,955 150,850 L150,1095 Q420,1200 600,1466 L830,1466 Z"/><text x="-14.07" y="0" font-size="25.3" font-family="Liberation Sans, sans-serif" font-weight="bold">0</text></g>
<g transform="translate(638.3,707.47) scale(1,1.04)" fill="#1e1e1e"><text x="-9.23" y="0" font-size="16.6" font-family="Liberation Sans, sans-serif" font-weight="bold">8</text></g>
<g transform="translate(625.96,658.69) scale(1,1.04)" fill="#1e1e1e"><path transform="translate(-28.14,0) scale(0.01235,-0.01235)" d="M830,0 L560,0 L560,1050 Q450,955 150,850 L150,1095 Q420,1200 600,1466 L830,1466 Z"/><text x="-14.07" y="0" font-size="25.3" font-family="Liberation Sans, sans-serif" font-weight="bold">0</text></g>
<g transform="translate(638.3,649.83) scale(1,1.04)" fill="#1e1e1e"><text x="-9.23" y="0" font-size="16.6" font-family="Liberation Sans, sans-serif" font-weight="bold">9</text></g>
<g transform="translate(616.73,601.06) scale(1,1.04)" fill="#1e1e1e"><path transform="translate(-28.14,0) scale(0.01235,-0.01235)" d="M830,0 L560,0 L560,1050 Q450,955 150,850 L150,1095 Q420,1200 600,1466 L830,1466 Z"/><text x="-14.07" y="0" font-size="25.3" font-family="Liberation Sans, sans-serif" font-weight="bold">0</text></g>
<g transform="translate(638.3,592.2) scale(1,1.04)" fill="#1e1e1e"><path transform="translate(-18.46,0) scale(0.00811,-0.00811)" d="M830,0 L560,0 L560,1050 Q450,955 150,850 L150,1095 Q420,1200 600,1466 L830,1466 Z"/><text x="-9.23" y="0" font-size="16.6" font-family="Liberation Sans, sans-serif" font-weight="bold">0</text></g>
<line x1="695.3" y1="938" x2="695.3" y2="947.5" stroke="#000" stroke-width="3.0"/>
<line x1="760.2" y1="938" x2="760.2" y2="947.5" stroke="#000" stroke-width="3.0"/>
<line x1="825" y1="938" x2="825" y2="947.5" stroke="#000" stroke-width="3.0"/>
<line x1="890" y1="938" x2="890" y2="947.5" stroke="#000" stroke-width="3.0"/>
<line x1="955" y1="938" x2="955" y2="947.5" stroke="#000" stroke-width="3.0"/>
<g transform="translate(703.3,972.2) rotate(-45) scale(1,1.04)" fill="#1e1e1e"><text x="-40.46" y="0" font-size="26" font-family="Liberation Sans, sans-serif" font-weight="bold">B.</text><path transform="translate(-14.46,0) scale(0.01270,-0.01270)" d="M830,0 L560,0 L560,1050 Q450,955 150,850 L150,1095 Q420,1200 600,1466 L830,1466 Z"/></g>
<g transform="translate(768.2,972.2) rotate(-45) scale(1,1.04)" fill="#1e1e1e"><text x="-59.24" y="0" font-size="26" font-family="Liberation Sans, sans-serif" font-weight="bold">BA.</text><path transform="translate(-14.46,0) scale(0.01270,-0.01270)" d="M830,0 L560,0 L560,1050 Q450,955 150,850 L150,1095 Q420,1200 600,1466 L830,1466 Z"/></g>
<g transform="translate(833,972.2) rotate(-45) scale(1,1.04)" fill="#1e1e1e"><text x="-59.24" y="0" font-size="26" font-family="Liberation Sans, sans-serif" font-weight="bold">BA.2</text></g>
<g transform="translate(898,972.2) rotate(-45) scale(1,1.04)" fill="#1e1e1e"><text x="-59.24" y="0" font-size="26" font-family="Liberation Sans, sans-serif" font-weight="bold">BA.4</text></g>
<g transform="translate(963,972.2) rotate(-45) scale(1,1.04)" fill="#1e1e1e"><text x="-59.24" y="0" font-size="26" font-family="Liberation Sans, sans-serif" font-weight="bold">BA.5</text></g>
<g transform="translate(658.8,622) scale(1,1.04)" fill="#1e1e1e"><text x="0" y="0" font-size="25.4" font-family="Liberation Sans, sans-serif" font-weight="bold">Calu-3</text></g>
<g transform="translate(567,765.1) rotate(-90) scale(1,1.04)" fill="#1e1e1e"><text x="-86.8" y="0" font-size="25.2" font-family="Liberation Sans, sans-serif" font-weight="bold">AUC (</text><path transform="translate(-16.81,0) scale(0.01230,-0.01230)" d="M830,0 L560,0 L560,1050 Q450,955 150,850 L150,1095 Q420,1200 600,1466 L830,1466 Z"/><text x="-2.8" y="0" font-size="25.2" font-family="Liberation Sans, sans-serif" font-weight="bold">h - 72h)</text></g>
<g transform="translate(-1,25.8) scale(1,1.04)" fill="#000"><text x="0" y="0" font-size="35.8" font-family="Liberation Sans, sans-serif" font-weight="bold">A)</text></g>
<g transform="translate(0.3,569.7) scale(1,1.04)" fill="#000"><text x="0" y="0" font-size="35.8" font-family="Liberation Sans, sans-serif" font-weight="bold">B)</text></g>
</svg>
</body></html>
